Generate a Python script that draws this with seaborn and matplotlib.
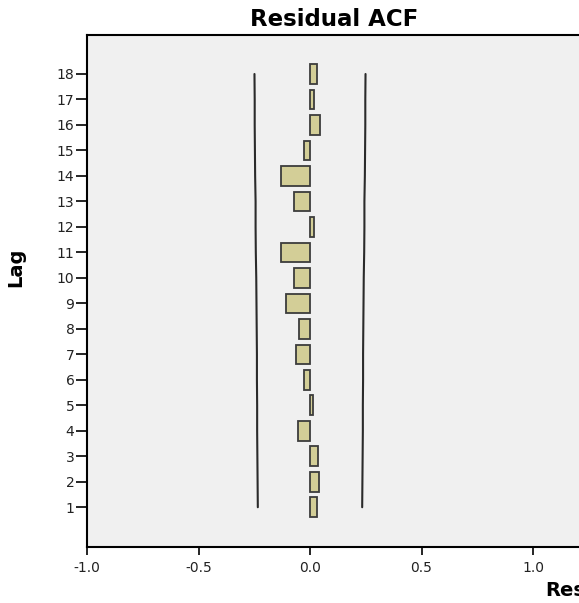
import matplotlib
matplotlib.use("Agg")
import matplotlib.pyplot as plt
import seaborn as sns
import pandas as pd
import numpy as np

# ---- data ----
lags = [1, 2, 3, 4, 5, 6, 7, 8, 9, 10, 11, 12, 13, 14, 15, 16, 17, 18]
acf = [0.030, 0.040, 0.038, -0.055, 0.013, -0.029, -0.062, -0.050, -0.107, -0.070,
       -0.132, 0.020, -0.070, -0.132, -0.025, 0.046, 0.020, 0.031]
upper_cl = [0.234, 0.235, 0.236, 0.237, 0.237, 0.238, 0.238, 0.239, 0.240, 0.241,
            0.243, 0.244, 0.244, 0.246, 0.247, 0.248, 0.248, 0.249]
lower_cl = [-v for v in upper_cl]
x_ticks = [-1.0, -0.5, 0.0, 0.5, 1.0]
x_ticklabels = ["-1.0", "-0.5", "0.0", "0.5", "1.0"]

df = pd.DataFrame({"Lag": lags, "ACF": acf, "UCL": upper_cl, "LCL": lower_cl})

sns.set_theme(style="ticks")
plt.rcParams["font.family"] = ["DejaVu Sans"]

W, H = 579, 603
fig = plt.figure(figsize=(W / 100, H / 100), dpi=100)
fig.patch.set_facecolor("white")

left_px, right_px, top_px, bottom_px = 87, 600, 35, 547
ax = fig.add_axes([left_px / W, 1 - bottom_px / H,
                   (right_px - left_px) / W, (bottom_px - top_px) / H])
ax.set_facecolor("#F0F0F0")

sns.barplot(data=df, x="ACF", y="Lag", orient="h", native_scale=True,
            width=0.77, color="#D3CE97", saturation=1,
            edgecolor="#3C3C3C", linewidth=1.3, ax=ax)
sns.lineplot(data=df, x="UCL", y="Lag", orient="y", sort=False,
             color="#2A2A2A", linewidth=1.5, ax=ax)
sns.lineplot(data=df, x="LCL", y="Lag", orient="y", sort=False,
             color="#2A2A2A", linewidth=1.5, ax=ax)

ax.set_xlim(-1.0, (right_px - left_px) / 223.0 - 1.0)
ax.set_ylim(-0.56, 19.53)

ax.set_yticks(lags)
ax.set_yticklabels([str(v) for v in lags])
ax.set_xticks(x_ticks)
ax.set_xticklabels(x_ticklabels)
ax.tick_params(axis="y", length=8, width=1.2, pad=1, labelsize=10, color="black",
               labelcolor="#222222")
ax.tick_params(axis="x", length=6, width=1.2, pad=4, labelsize=10, color="black",
               labelcolor="#222222")

ax.set_xlabel("")
ax.set_ylabel("")
for side in ["left", "top", "bottom"]:
    ax.spines[side].set_visible(True)
    ax.spines[side].set_color("black")
    ax.spines[side].set_linewidth(1.5)
ax.spines["right"].set_visible(False)
ax.grid(False)

fig.text(334.5 / W, 1 - 20 / H, "Residual ACF", ha="center", va="center",
         fontsize=16.5, fontweight="bold", color="black")
fig.text(16 / W, 1 - 267 / H, "Lag", ha="center", va="center", rotation=90,
         fontsize=14, fontweight="bold", color="black")
fig.text(545 / W, 1 - 590 / H, "Residual", ha="left", va="center",
         fontsize=14, fontweight="bold", color="black")

fig.savefig("out.png", dpi=100)
